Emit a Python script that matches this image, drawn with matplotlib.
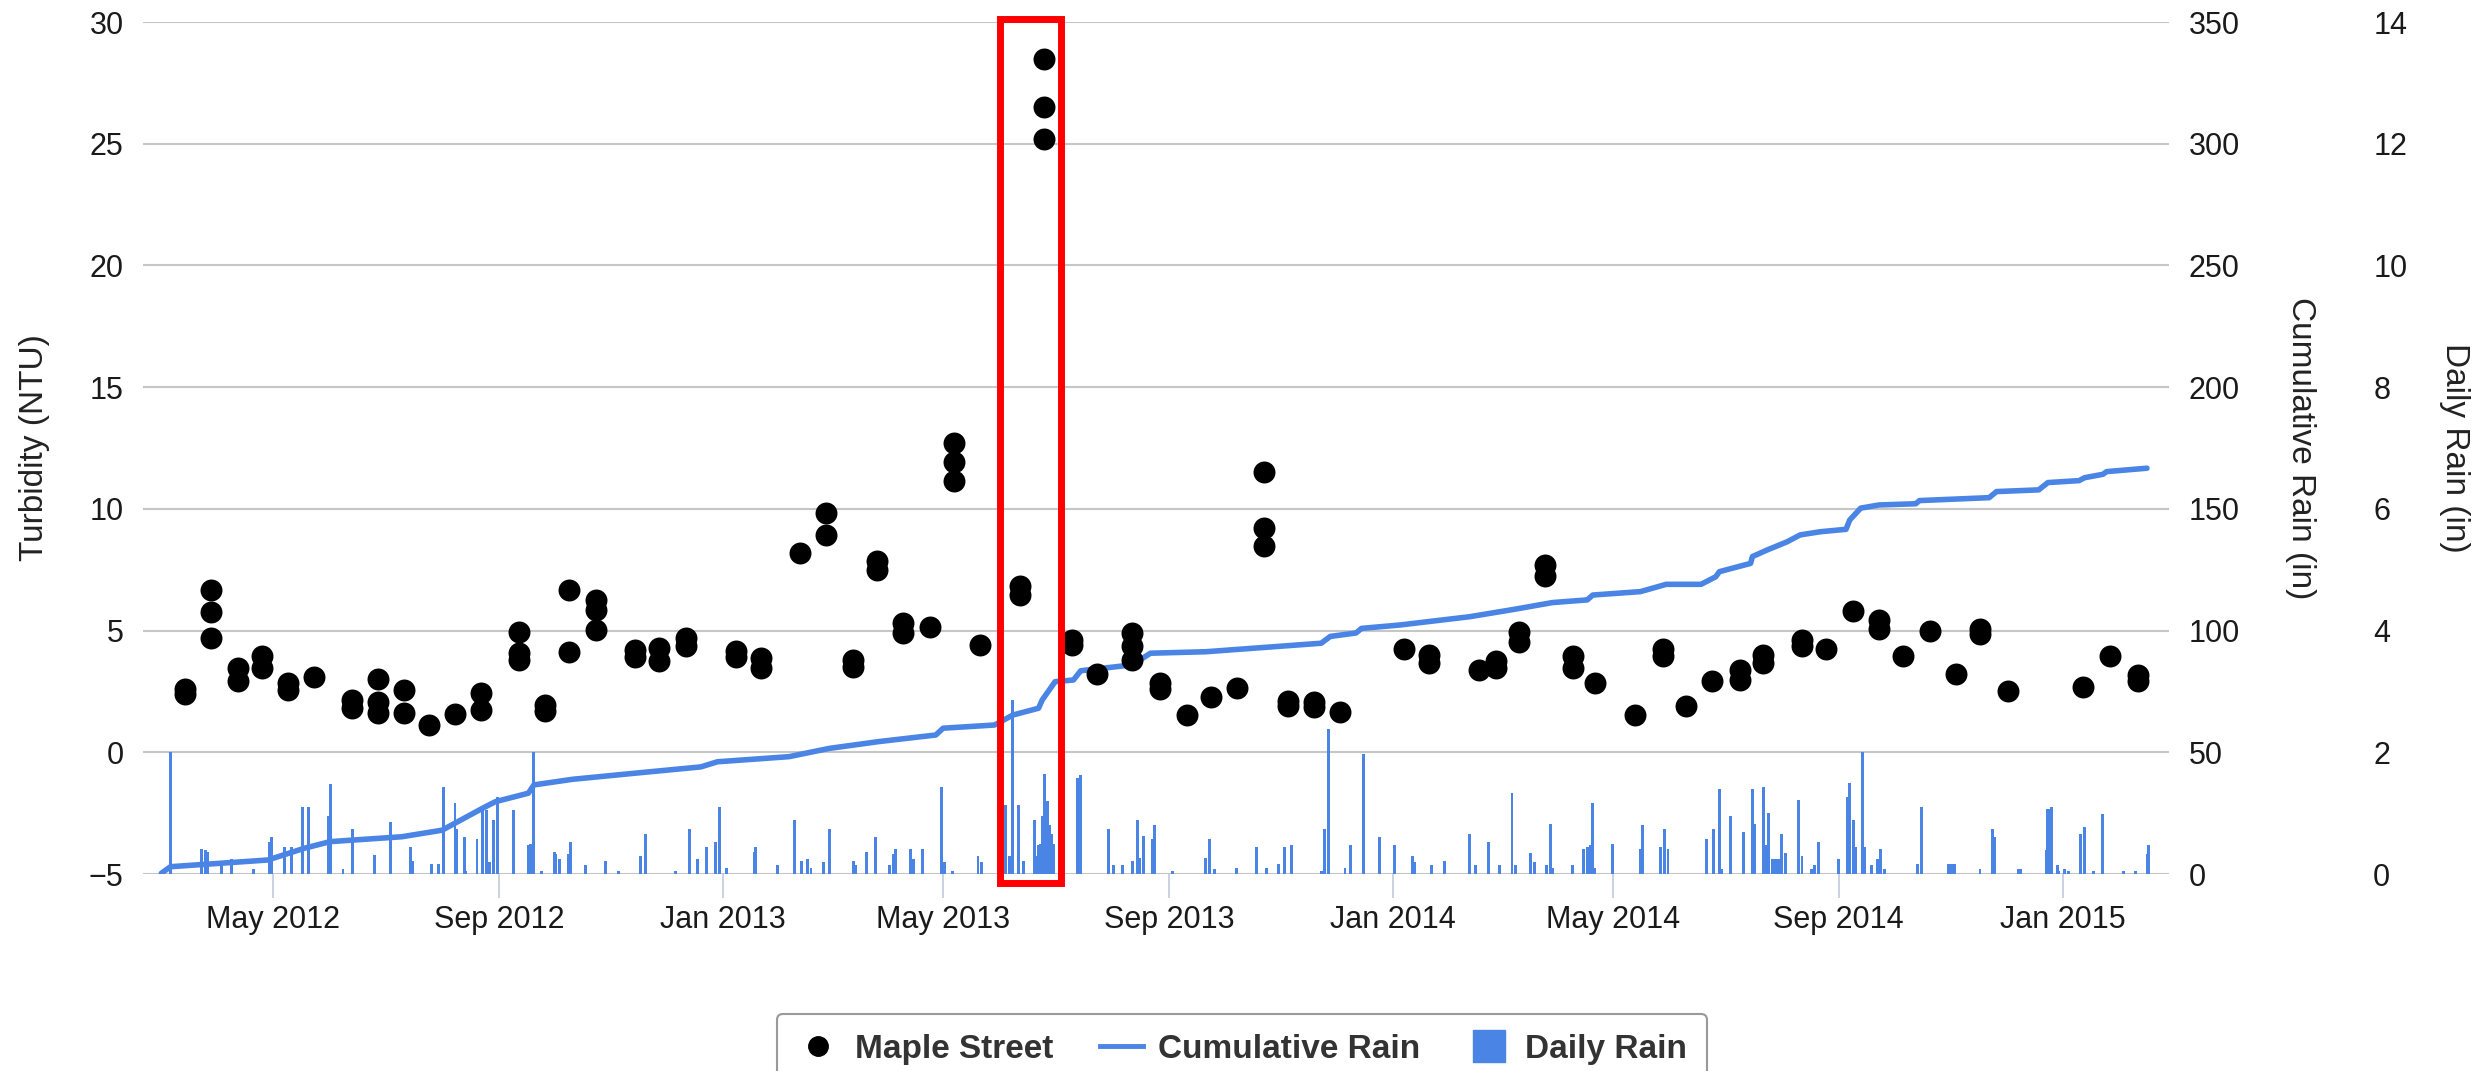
import matplotlib
matplotlib.use("Agg")
import matplotlib.pyplot as plt
import matplotlib.dates as mdates
from matplotlib.lines import Line2D
from matplotlib.patches import Rectangle

plt.rcParams["font.family"] = ["Liberation Sans", "DejaVu Sans"]

BLUE = "#4a84e4"
GRID = "#c6c6c6"

# --- Maple Street turbidity samples (several grab samples on some days) ---
SAMPLE_DATES = [
    "2012-03-14", "2012-03-28", "2012-04-12", "2012-04-25", "2012-05-09",
    "2012-05-23", "2012-06-13", "2012-06-27", "2012-07-11", "2012-07-25",
    "2012-08-08", "2012-08-22", "2012-09-12", "2012-09-26", "2012-10-09",
    "2012-10-24", "2012-11-14", "2012-11-27", "2012-12-12", "2013-01-08",
    "2013-01-22", "2013-02-12", "2013-02-26", "2013-03-13", "2013-03-26",
    "2013-04-09", "2013-04-24", "2013-05-07", "2013-05-21", "2013-06-12",
    "2013-06-25", "2013-07-10", "2013-07-24", "2013-08-12", "2013-08-27",
    "2013-09-11", "2013-09-24", "2013-10-08", "2013-10-23", "2013-11-05",
    "2013-11-19", "2013-12-03", "2014-01-07", "2014-01-21", "2014-02-17",
    "2014-02-26", "2014-03-11", "2014-03-25", "2014-04-09", "2014-04-21",
    "2014-05-13", "2014-05-28", "2014-06-10", "2014-06-24", "2014-07-09",
    "2014-07-22", "2014-08-12", "2014-08-25", "2014-09-09", "2014-09-23",
    "2014-10-06", "2014-10-21", "2014-11-04", "2014-11-17", "2014-12-02",
    "2015-01-12", "2015-01-27", "2015-02-11",
]
SAMPLE_NTU = [
    [2.6, 2.4], [6.68, 5.76, 4.69], [3.46, 2.91], [3.94, 3.46], [2.84, 2.56],
    [3.11], [2.15, 1.81], [3.0, 2.08, 1.6], [2.56, 1.6], [1.12],
    [1.58], [2.43, 1.74], [4.96, 4.07, 3.8], [1.95, 1.7], [6.68, 4.14],
    [6.27, 5.86, 5.03], [4.2, 3.9], [4.28, 3.73], [4.69, 4.35], [4.15, 3.9],
    [3.87, 3.46], [8.19], [9.83, 8.94], [3.8, 3.5], [7.84, 7.5],
    [5.31, 4.9], [5.13], [12.72, 11.92, 11.14], [4.39], [6.82, 6.47],
    [28.49, 26.5, 25.2], [4.6, 4.4], [3.22], [4.9, 4.35, 3.8], [2.85, 2.6],
    [1.53], [2.29], [2.63], [11.52, 9.22, 8.46], [2.1, 1.9],
    [2.05, 1.85], [1.65], [4.24], [4.0, 3.66], [3.39],
    [3.75, 3.45], [4.96, 4.55], [7.71, 7.23], [3.94, 3.46], [2.84],
    [1.53], [4.25, 3.95], [1.92], [2.91], [3.39, 2.98],
    [4.0, 3.66], [4.6, 4.35], [4.24], [5.81], [5.45, 5.05],
    [3.94], [5.0], [3.22], [5.05, 4.85], [2.52],
    [2.7], [3.96], [3.18, 2.91],
]

# --- cumulative rain (in) ---
CUM_DATES = [
    "2012-03-01", "2012-03-06", "2012-04-28", "2012-05-18", "2012-06-01",
    "2012-07-10", "2012-08-01", "2012-08-23", "2012-08-30", "2012-09-17",
    "2012-09-20", "2012-10-11", "2012-11-14", "2012-12-20", "2012-12-29",
    "2013-02-06", "2013-02-28", "2013-03-27", "2013-04-27", "2013-05-01",
    "2013-05-29", "2013-06-08", "2013-06-22", "2013-06-24", "2013-07-01",
    "2013-07-11", "2013-07-15", "2013-08-12", "2013-08-22", "2013-09-21",
    "2013-11-23", "2013-11-28", "2013-12-12", "2013-12-15", "2014-01-05",
    "2014-02-12", "2014-03-08", "2014-03-29", "2014-04-17", "2014-04-20",
    "2014-05-16", "2014-05-30", "2014-06-18", "2014-06-26", "2014-06-28",
    "2014-07-15", "2014-07-16", "2014-07-24", "2014-08-04", "2014-08-11",
    "2014-08-22", "2014-09-05", "2014-09-07", "2014-09-13", "2014-09-23",
    "2014-10-13", "2014-10-15", "2014-11-22", "2014-11-26", "2014-12-19",
    "2014-12-24", "2015-01-10", "2015-01-13", "2015-01-23", "2015-01-25",
    "2015-02-16",
]
CUM_IN = [
    0.3, 3.0, 5.75, 10.6, 13.3,
    15.3, 18.0, 27.0, 29.7, 33.2,
    36.6, 38.9, 41.4, 44.0, 46.1,
    48.2, 51.6, 54.4, 57.1, 59.9,
    61.2, 65.3, 68.1, 71.5, 79.0,
    79.7, 83.5, 85.9, 90.7, 91.3,
    94.8, 97.6, 99.0, 100.9, 102.3,
    105.7, 108.7, 111.5, 112.6, 114.6,
    116.0, 119.0, 119.0, 122.1, 124.2,
    127.6, 130.4, 133.1, 136.5, 139.3,
    140.6, 141.6, 145.4, 150.3, 151.6,
    152.1, 153.4, 154.6, 157.1, 157.8,
    160.8, 161.6, 162.8, 164.2, 165.3,
    166.7,
]

# --- daily rain (in) ---
RAIN_DATES = [
    "2012-03-06", "2012-03-23", "2012-03-25", "2012-03-26", "2012-04-03",
    "2012-04-08", "2012-04-20", "2012-04-29", "2012-04-30", "2012-05-07",
    "2012-05-11", "2012-05-17", "2012-05-20", "2012-05-31", "2012-06-01",
    "2012-06-08", "2012-06-13", "2012-06-25", "2012-07-04", "2012-07-15",
    "2012-07-16", "2012-07-26", "2012-07-30", "2012-08-02", "2012-08-08",
    "2012-08-09", "2012-08-13", "2012-08-14", "2012-08-20", "2012-08-23",
    "2012-08-25", "2012-08-27", "2012-08-29", "2012-08-31", "2012-09-09",
    "2012-09-17", "2012-09-18", "2012-09-20", "2012-09-24", "2012-10-01",
    "2012-10-02", "2012-10-04", "2012-10-09", "2012-10-10", "2012-10-18",
    "2012-10-29", "2012-11-05", "2012-11-17", "2012-11-20", "2012-12-06",
    "2012-12-14", "2012-12-18", "2012-12-23", "2012-12-28", "2012-12-30",
    "2013-01-03", "2013-01-18", "2013-01-19", "2013-01-31", "2013-02-09",
    "2013-02-13", "2013-02-16", "2013-02-18", "2013-02-25", "2013-02-28",
    "2013-03-13", "2013-03-14", "2013-03-20", "2013-03-25", "2013-04-02",
    "2013-04-04", "2013-04-05", "2013-04-13", "2013-04-15", "2013-04-20",
    "2013-04-30", "2013-05-02", "2013-05-06", "2013-05-20", "2013-05-22",
    "2013-06-04", "2013-06-06", "2013-06-08", "2013-06-11", "2013-06-14",
    "2013-06-20", "2013-06-21", "2013-06-22", "2013-06-23", "2013-06-24",
    "2013-06-25", "2013-06-26", "2013-06-27", "2013-06-28", "2013-06-29",
    "2013-06-30", "2013-07-13", "2013-07-15", "2013-07-30", "2013-08-02",
    "2013-08-07", "2013-08-12", "2013-08-15", "2013-08-16", "2013-08-18",
    "2013-08-23", "2013-08-24", "2013-09-03", "2013-09-21", "2013-09-23",
    "2013-09-26", "2013-10-08", "2013-10-19", "2013-10-24", "2013-10-31",
    "2013-11-03", "2013-11-07", "2013-11-23", "2013-11-25", "2013-11-27",
    "2013-12-06", "2013-12-09", "2013-12-16", "2013-12-25", "2014-01-02",
    "2014-01-12", "2014-01-13", "2014-01-22", "2014-01-29", "2014-02-12",
    "2014-02-15", "2014-02-22", "2014-02-28", "2014-03-07", "2014-03-09",
    "2014-03-17", "2014-03-19", "2014-03-26", "2014-03-28", "2014-03-29",
    "2014-04-09", "2014-04-15", "2014-04-17", "2014-04-19", "2014-04-20",
    "2014-04-21", "2014-05-01", "2014-05-16", "2014-05-17", "2014-05-27",
    "2014-05-29", "2014-05-31", "2014-06-21", "2014-06-25", "2014-06-28",
    "2014-06-29", "2014-07-04", "2014-07-11", "2014-07-16", "2014-07-17",
    "2014-07-22", "2014-07-23", "2014-07-25", "2014-07-27", "2014-07-28",
    "2014-07-29", "2014-07-30", "2014-08-01", "2014-08-03", "2014-08-10",
    "2014-08-12", "2014-08-17", "2014-08-19", "2014-08-21", "2014-09-01",
    "2014-09-06", "2014-09-07", "2014-09-09", "2014-09-10", "2014-09-14",
    "2014-09-15", "2014-09-19", "2014-09-22", "2014-09-24", "2014-09-26",
    "2014-10-14", "2014-10-16", "2014-10-31", "2014-11-01", "2014-11-02",
    "2014-11-03", "2014-11-17", "2014-11-24", "2014-11-25", "2014-12-08",
    "2014-12-09", "2014-12-23", "2014-12-24", "2014-12-25", "2014-12-26",
    "2014-12-29", "2014-12-30", "2015-01-02", "2015-01-04", "2015-01-11",
    "2015-01-13", "2015-01-18", "2015-01-23", "2015-02-03", "2015-02-10",
    "2015-02-16", "2015-02-17",
]
RAIN_IN = [
    2.0, 0.41, 0.40, 0.36, 0.17,
    0.25, 0.08, 0.52, 0.60, 0.44,
    0.44, 1.10, 1.10, 0.96, 1.48,
    0.08, 0.74, 0.32, 0.86, 0.44,
    0.22, 0.17, 0.17, 1.43, 1.17,
    0.74, 0.60, 0.05, 0.57, 1.10,
    1.05, 0.20, 0.88, 1.26, 1.05,
    0.47, 0.50, 2.00, 0.05, 0.36,
    0.33, 0.25, 0.33, 0.52, 0.14,
    0.22, 0.05, 0.30, 0.65, 0.05,
    0.74, 0.25, 0.44, 0.52, 1.10,
    0.10, 0.36, 0.44, 0.14, 0.88,
    0.22, 0.25, 0.10, 0.20, 0.74,
    0.22, 0.15, 0.36, 0.60, 0.14,
    0.33, 0.41, 0.41, 0.25, 0.41,
    1.43, 0.20, 0.05, 0.30, 0.20,
    1.14, 0.30, 2.86, 1.14, 0.22,
    0.88, 0.30, 0.47, 0.50, 0.96,
    1.65, 1.00, 1.20, 0.80, 0.66,
    0.50, 1.58, 1.63, 0.74, 0.14,
    0.14, 0.22, 0.88, 0.27, 0.63,
    0.57, 0.80, 0.05, 0.27, 0.57,
    0.08, 0.10, 0.44, 0.10, 0.17,
    0.44, 0.48, 0.05, 0.74, 2.39,
    0.10, 0.48, 1.97, 0.60, 0.47,
    0.30, 0.20, 0.15, 0.22, 0.66,
    0.15, 0.52, 0.15, 1.33, 0.15,
    0.34, 0.20, 0.15, 0.82, 0.10,
    0.15, 0.41, 0.44, 0.47, 1.17,
    0.10, 0.50, 0.41, 0.80, 0.44,
    0.74, 0.41, 0.57, 0.74, 1.39,
    0.08, 0.96, 0.69, 1.39, 0.82,
    1.43, 0.47, 1.00, 0.25, 0.25,
    0.25, 0.25, 0.66, 0.34, 1.21,
    0.30, 0.08, 0.15, 0.52, 0.25,
    1.26, 1.50, 0.88, 0.44, 2.00,
    0.44, 0.15, 0.25, 0.41, 0.08,
    0.17, 1.10, 0.17, 0.17, 0.17,
    0.17, 0.08, 0.74, 0.60, 0.08,
    0.08, 0.39, 1.06, 1.06, 1.10,
    0.14, 0.05, 0.08, 0.05, 0.65,
    0.78, 0.05, 0.98, 0.05, 0.05,
    0.33, 0.48,
]

X_TICKS = [
    "2012-05-01", "2012-09-01", "2013-01-01", "2013-05-01", "2013-09-01",
    "2014-01-01", "2014-05-01", "2014-09-01", "2015-01-01",
]
X_RANGE = ("2012-02-20", "2015-02-28")

# highlighted storm window (red box)
HIGHLIGHT_X = ("2013-06-01", "2013-07-04")
HIGHLIGHT_Y = (-5.37, 30.12)

# flatten samples
pt_x, pt_y = [], []
for d, vals in zip(SAMPLE_DATES, SAMPLE_NTU):
    for v in vals:
        pt_x.append(mdates.datestr2num(d))
        pt_y.append(v)

W, H = 2488, 1071
fig = plt.figure(figsize=(W / 100, H / 100), dpi=100)
ax = fig.add_axes([143 / W, 1 - 874 / H, (2169 - 143) / W, (874 - 22) / H])
ax_daily = ax.twinx()
ax_cum = ax.twinx()
ax_daily.set_zorder(1)
ax_cum.set_zorder(2)
ax.set_zorder(3)
ax.patch.set_visible(False)
ax_cum.patch.set_visible(False)

# daily rain columns (lowest layer) + shared gridlines
ax_daily.bar(mdates.datestr2num(RAIN_DATES), RAIN_IN, width=1.6,
             color=BLUE, linewidth=0, zorder=2)
ax_daily.set_ylim(0, 14)
ax_daily.set_yticks(range(0, 15, 2))
ax_daily.grid(axis="y", color=GRID, lw=1.5, zorder=0)
ax_daily.set_axisbelow(True)

# cumulative rain line
ax_cum.plot(mdates.datestr2num(CUM_DATES), CUM_IN, color=BLUE, lw=4,
            solid_joinstyle="round", solid_capstyle="round")
ax_cum.set_ylim(0, 350)
ax_cum.set_yticks(range(0, 351, 50))

# turbidity points
ax.scatter(pt_x, pt_y, s=250, color="black", linewidths=0, zorder=5)
ax.set_ylim(-5, 30)
ax.set_yticks(range(-5, 31, 5))

x0, x1 = mdates.datestr2num(X_RANGE[0]), mdates.datestr2num(X_RANGE[1])
ax.set_xlim(x0, x1)
ax.set_xticks(mdates.datestr2num(X_TICKS))
ax.xaxis.set_major_formatter(mdates.DateFormatter("%b %Y"))

for a in (ax, ax_daily, ax_cum):
    for s in a.spines.values():
        s.set_visible(False)

ax.tick_params(axis="x", length=17, width=1.4, color="#c9d2e4", pad=5,
               labelsize=22, labelcolor="#1a1a1a")
ax.tick_params(axis="y", length=0, pad=14, labelsize=22, labelcolor="#1a1a1a")
ax_cum.tick_params(axis="y", length=0, pad=14, labelsize=22, labelcolor="#1a1a1a")
ax_daily.tick_params(axis="y", length=0, pad=147, labelsize=22, labelcolor="#1a1a1a")

ax.set_ylabel("Turbidity (NTU)", fontsize=24, color="#222222")
ax_cum.set_ylabel("Cumulative Rain (in)", fontsize=24, color="#222222", rotation=270)
ax_daily.set_ylabel("Daily Rain (in)", fontsize=24, color="#222222", rotation=270)
for a, xc in ((ax, -0.0535), (ax_cum, 1.0647), (ax_daily, 1.141)):
    a.yaxis.set_label_coords(xc, 0.5)
    a.yaxis.label.set_ha("center")
    a.yaxis.label.set_va("center")

# red highlight box
hx0, hx1 = mdates.datestr2num(HIGHLIGHT_X[0]), mdates.datestr2num(HIGHLIGHT_X[1])
ax.add_patch(Rectangle((hx0, HIGHLIGHT_Y[0]), hx1 - hx0,
                       HIGHLIGHT_Y[1] - HIGHLIGHT_Y[0], fill=False,
                       edgecolor="#ff0000", lw=5, clip_on=False, zorder=10))

handles = [
    Line2D([], [], marker="o", ls="none", color="black", markersize=14),
    Line2D([], [], color=BLUE, lw=3.5),
    Line2D([], [], marker="s", ls="none", color=BLUE, markersize=23),
]
leg = fig.legend(handles, ["Maple Street", "Cumulative Rain", "Daily Rain"],
                 loc="upper center", bbox_to_anchor=(1242 / W, 1 - 997 / H),
                 ncol=3, frameon=True, fancybox=True,
                 prop=dict(weight="bold", size=24),
                 handlelength=1.3, handletextpad=0.45, columnspacing=1.4,
                 borderpad=0.6, framealpha=1, edgecolor="#999999")
leg.get_frame().set_linewidth(1.5)
for t in leg.get_texts():
    t.set_color("#333333")

fig.savefig("out.png", dpi=100, facecolor="white")
